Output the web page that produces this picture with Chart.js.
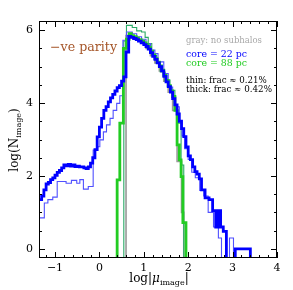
<!DOCTYPE html>
<html>
<head>
<meta charset="utf-8">
<script src="https://cdn.jsdelivr.net/npm/chart.js@4/dist/chart.umd.min.js"></script>
<style>
html,body{margin:0;padding:0;background:#fff;}
canvas{display:block;}
</style>
</head>
<body>
<canvas id="c" width="293" height="290"></canvas>
<script>
// ---- data: histogram bin left edges (log|mu|) and log(N) values; -1 = empty bin ----
const thickBlueX = [-1.40,-1.30,-1.25,-1.20,-1.15,-1.10,-1.05,-1.00,-0.95,-0.90,-0.85,-0.80,-0.75,-0.70,-0.65,-0.60,-0.55,-0.50,-0.45,-0.40,-0.35,-0.30,-0.25,-0.20,-0.15,-0.10,-0.05,0.00,0.05,0.10,0.15,0.20,0.25,0.30,0.35,0.40,0.45,0.50,0.55,0.60,0.66,0.71,0.77,0.83,0.88,0.94,1.00,1.05,1.10,1.15,1.20,1.25,1.30,1.35,1.40,1.45,1.50,1.55,1.60,1.65,1.70,1.75,1.80,1.85,1.90,1.95,2.00,2.05,2.10,2.15,2.20,2.25,2.30,2.38,2.47,2.55,2.62,2.68,2.73,2.79,2.86,3.06,3.40,3.51];
const thickBlueY = [0.95,1.35,1.45,1.62,1.78,1.82,1.90,1.95,2.02,2.10,2.15,2.22,2.30,2.28,2.32,2.27,2.30,2.26,2.27,2.25,2.25,2.22,2.20,2.25,2.35,2.50,2.72,3.07,3.34,3.58,3.80,3.90,4.03,4.14,4.24,4.33,4.42,4.48,4.60,4.72,5.40,5.83,5.80,5.77,5.74,5.70,5.65,5.60,5.55,5.48,5.38,5.28,5.20,5.10,5.00,4.88,4.73,4.58,4.45,4.30,4.12,3.95,3.70,3.50,3.30,3.08,2.80,2.55,2.45,2.25,2.12,2.05,1.92,1.62,1.40,1.35,1.05,0.60,1.05,0.60,0.48,-1,0,-1];

const thinBlueX = [-1.40,-1.24,-1.16,-1.05,-0.95,-0.85,-0.75,-0.63,-0.51,-0.44,-0.36,-0.25,-0.14,-0.06,0.01,0.09,0.16,0.24,0.31,0.39,0.46,0.53,0.61,0.74,0.84,0.95,1.05,1.15,1.25,1.32,1.45,1.55,1.65,1.72,1.80,1.86,1.92,2.00,2.08,2.16,2.26,2.35,2.45,2.57,2.68,2.75,2.93,3.02,3.24];
const thinBlueY = [0,0.85,1.26,1.35,1.42,1.85,1.85,1.80,1.88,1.80,1.90,1.64,1.71,2.71,2.80,2.99,3.21,3.40,3.58,3.80,3.99,4.20,5.72,5.95,5.90,5.82,5.75,5.63,5.45,5.36,5.13,4.81,4.44,4.17,3.90,3.50,3.10,2.75,2.45,2.10,1.95,1.60,1.45,1.00,0.60,0.30,-1,0.30,-1];

const thickGreenX = [0.40,0.46,0.54,0.61,0.67,0.72,0.77,0.83,0.88,0.94,1.00,1.05,1.10,1.15,1.20,1.25,1.30,1.35,1.40,1.45,1.50,1.55,1.60,1.65,1.70,1.75,1.80,1.84,1.88,1.95,2.02];
const thickGreenY = [-1,1.89,3.45,5.50,5.75,5.90,5.85,5.82,5.78,5.74,5.70,5.65,5.60,5.52,5.42,5.32,5.22,5.12,5.02,4.90,4.76,4.62,4.48,4.33,4.18,3.80,2.85,2.44,1.98,0.72,-1];

const thinGreenX = [0.55,0.61,0.74,0.84,0.95,1.03,1.10,1.18,1.29,1.37,1.48,1.59,1.70,1.77,1.84,1.90,1.95];
const thinGreenY = [-1,5.70,6.13,6.07,5.98,5.95,5.80,5.63,5.31,5.13,4.85,4.63,4.35,3.80,3.45,2.30,-1];

const grayX = [0.60,0.65,0.75,0.85,0.95,1.05,1.15,1.25,1.35,1.45,1.55,1.65,1.75,1.85,1.90,1.96];
const grayY = [-1,5.85,5.84,5.78,5.72,5.64,5.50,5.30,5.10,4.88,4.60,4.30,3.80,2.40,1.00,-1];

// ---- ticks ----
const xTickLabels = [-1,0,1,2,3,4];
const yTickLabels = [0,2,4,6];
const xMinorStep = 0.2;
const yMinorStep = 0.5;

function pts(xs, ys){ return xs.map((x,i)=>({x:x, y:ys[i]})); }
function ds(xs, ys, color, w){
  return {data: pts(xs,ys), borderColor: color, borderWidth: w, stepped: 'after',
          pointRadius: 0, fill: false, tension: 0, borderJoinStyle: 'miter', borderCapStyle: 'butt'};
}

const SERIF = '"DejaVu Serif", "Liberation Serif", serif';

function drawParts(ctx, parts, cx, cy){
  let w = 0;
  parts.forEach(p=>{ ctx.font = p.font; p.w = ctx.measureText(p.t).width; w += p.w; });
  let x = cx - w/2;
  parts.forEach(p=>{ ctx.font = p.font; ctx.fillText(p.t, x, cy + (p.dy||0)); x += p.w; });
}
function fitText(ctx, t, x, y, target, color){
  ctx.font = '10px ' + SERIF;
  const m = ctx.measureText(t).width;
  const s = 10 * target / m;
  ctx.font = s.toFixed(2) + 'px ' + SERIF;
  ctx.fillStyle = color;
  ctx.fillText(t, x, y);
}

const decor = {
  id: 'decor',
  afterDraw(chart){
    const ctx = chart.ctx, a = chart.chartArea;
    const xs = chart.scales.x, ys = chart.scales.y;
    ctx.save();
    ctx.strokeStyle = '#000'; ctx.lineWidth = 1;
    ctx.strokeRect(a.left+0.5, a.top+0.5, a.right-a.left-1, a.bottom-a.top-1);
    ctx.beginPath();
    for (let v = -1.2; v <= 4.001; v += xMinorStep) {
      const vv = Math.round(v*10)/10;
      const px = Math.round(xs.getPixelForValue(vv)) + 0.5;
      const major = Math.abs(vv - Math.round(vv)) < 1e-6;
      const L = major ? 6 : 3;
      ctx.moveTo(px, a.bottom); ctx.lineTo(px, a.bottom - L);
      ctx.moveTo(px, a.top); ctx.lineTo(px, a.top + L);
    }
    for (let v = 0; v <= 6.001; v += yMinorStep) {
      const py = Math.round(ys.getPixelForValue(v)) + 0.5;
      const major = Math.abs(v/2 - Math.round(v/2)) < 1e-6;
      const L = major ? 6 : 3;
      ctx.moveTo(a.left, py); ctx.lineTo(a.left + L, py);
      ctx.moveTo(a.right, py); ctx.lineTo(a.right - L, py);
    }
    ctx.stroke();

    // axis titles
    ctx.fillStyle = '#000';
    ctx.textBaseline = 'alphabetic';
    ctx.textAlign = 'left';
    drawParts(ctx, [
      {t:'log|', font:'12px '+SERIF},
      {t:'\u03BC', font:'italic 12px '+SERIF},
      {t:'image', font:'8px '+SERIF, dy:3},
      {t:'|', font:'12px '+SERIF}
    ], 159, 282);
    ctx.save();
    ctx.translate(14, 140);
    ctx.rotate(-Math.PI/2);
    drawParts(ctx, [
      {t:'log(N', font:'12px '+SERIF},
      {t:'image', font:'8px '+SERIF, dy:3},
      {t:')', font:'12px '+SERIF}
    ], 0, 4);
    ctx.restore();

    // annotations
    ctx.textBaseline = 'middle';
    fitText(ctx, '\u2212ve parity', 50, 48, 67, 'rgb(165,85,40)');
    fitText(ctx, 'gray: no subhalos', 186, 41, 76, '#a8a8a8');
    fitText(ctx, 'core = 22 pc', 186, 55, 61, '#0000ff');
    fitText(ctx, 'core = 88 pc', 186, 64, 61, '#22cc22');
    fitText(ctx, 'thin: frac \u2248 0.21%', 186, 81, 81, '#000');
    fitText(ctx, 'thick: frac \u2248 0.42%', 186, 90, 86, '#000');
    ctx.restore();
  }
};

new Chart(document.getElementById('c'), {
  type: 'line',
  data: {
    datasets: [
      ds(thickBlueX, thickBlueY, '#0000ff', 2.8),
      ds(thickGreenX, thickGreenY, '#22cc22', 2.8),
      ds(thinBlueX, thinBlueY, '#5050ff', 1.1),
      ds(thinGreenX, thinGreenY, '#2aaa66', 1.1),
      ds(grayX, grayY, '#999999', 1.6)
    ]
  },
  options: {
    responsive: false,
    animation: false,
    devicePixelRatio: 1,
    events: [],
    layout: {padding: {left: 0, right: 16, top: 21, bottom: 0}},
    plugins: {legend: {display: false}, tooltip: {enabled: false}},
    scales: {
      x: {
        type: 'linear', min: -1.36, max: 4.0,
        grid: {display: false, drawTicks: false},
        border: {display: false},
        afterBuildTicks: s => { s.ticks = xTickLabels.map(v => ({value: v})); },
        afterFit: s => { s.height = 32; },
        ticks: {color: '#000', padding: 4, maxRotation: 0,
                font: {family: SERIF, size: 11},
                callback: v => String(v).replace('-', '\u2212')}
      },
      y: {
        type: 'linear', min: -0.25, max: 6.25,
        grid: {display: false, drawTicks: false},
        border: {display: false},
        afterBuildTicks: s => { s.ticks = yTickLabels.map(v => ({value: v})); },
        afterFit: s => { s.width = 39; },
        ticks: {color: '#000', padding: 6, font: {family: SERIF, size: 11}}
      }
    }
  },
  plugins: [decor]
});
</script>
</body>
</html>
